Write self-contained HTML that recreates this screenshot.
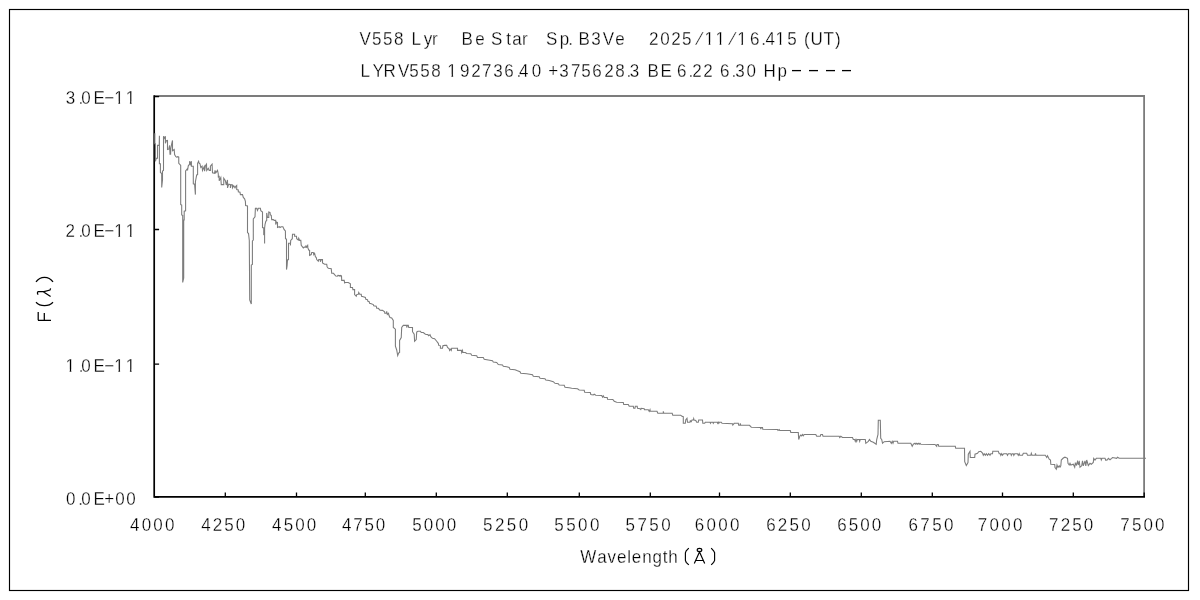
<!DOCTYPE html>
<html><head><meta charset="utf-8"><title>V558 Lyr spectrum</title>
<style>
html,body{margin:0;padding:0;background:#fff;}
body{width:1200px;height:600px;overflow:hidden;font-family:"Liberation Sans",sans-serif;}
svg{display:block;filter:grayscale(1);}
.t{font-family:"Liberation Sans",sans-serif;white-space:pre;fill:#000;stroke:#fff;stroke-width:0.3px;paint-order:fill stroke;}
.d{stroke:#000;stroke-width:1.3;}
</style></head><body>
<svg width="1200" height="600" viewBox="0 0 1200 600">
<rect x="0" y="0" width="1200" height="600" fill="#fff"/>
<rect x="9.5" y="9.5" width="1179" height="581" fill="none" stroke="#000" stroke-width="1.15"/>
<!-- plot frame: top & right gray -->
<path d="M154.3 96 H1144.1 V497" fill="none" stroke="#7c7c7c" stroke-width="1.8"/>
<!-- axes -->
<path d="M154.2 95.2 V496.95 H1145" fill="none" stroke="#000" stroke-width="1.7"/>
<path d="M225.30 497.0 V492.4 M296.50 497.0 V492.4 M365.30 497.0 V492.4 M436.30 497.0 V492.4 M507.30 497.0 V492.4 M579.30 497.0 V492.4 M650.30 497.0 V492.4 M719.50 497.0 V492.4 M790.30 497.0 V492.4 M861.30 497.0 V492.4 M932.30 497.0 V492.4 M1002.50 497.0 V492.4 M1073.30 497.0 V492.4 M1144.20 497.0 V492.4 M154.3 96.60 H159.1 M154.3 229.50 H159.1 M154.3 364.20 H159.1 M154.3 497.00 H159.1" fill="none" stroke="#000" stroke-width="1.3"/>
<!-- spectrum -->
<path d="M154.80 133.30 L154.80 143.75 L155.40 143.75 L155.40 161.25 L156.25 158.30 L157.50 158.30 L157.50 145.40 L159.20 145.40 L159.40 135.80 L159.40 163.75 L160.40 163.75 L160.40 172.50 L161.70 173.50 L161.70 187.50 L162.50 180.00 L162.50 171.00 L163.50 170.40 L163.50 136.25 L164.60 138.30 L165.40 136.25 L165.40 143.30 L166.25 140.80 L167.50 140.40 L167.50 149.60 L168.75 149.20 L169.60 145.40 L170.00 154.20 L170.60 154.20 L170.80 148.30 L171.70 143.75 L172.50 140.40 L172.50 150.80 L174.20 149.60 L174.60 154.60 L175.80 156.70 L176.70 157.10 L177.90 156.70 L178.75 157.10 L178.75 163.30 L179.60 164.20 L180.70 165.40 L180.70 204.60 L181.70 205.00 L181.70 215.00 L182.70 215.40 L182.70 282.50 L183.70 278.00 L183.70 220.00 L184.20 220.00 L184.20 211.25 L185.60 210.80 L185.60 171.00 L187.10 169.20 L187.50 170.40 L188.30 165.80 L189.60 164.20 L189.60 161.25 L190.40 164.20 L191.40 161.25 L191.40 166.25 L193.30 166.25 L193.30 183.75 L194.60 184.20 L195.40 194.60 L195.40 181.70 L196.70 175.00 L197.60 174.60 L197.60 163.30 L198.60 161.25 L199.20 163.30 L200.00 163.75 L200.80 167.50 L202.10 166.25 L202.50 170.40 L204.20 166.70 L204.60 171.25 L205.40 165.80 L206.50 164.20 L206.70 170.40 L208.30 168.30 L209.20 170.40 L210.40 170.40 L210.40 166.25 L212.10 164.20 L212.50 172.90 L214.60 173.30 L215.00 170.40 L215.80 172.90 L217.50 170.40 L218.30 174.00 L218.30 177.50 L219.20 175.80 L219.20 180.80 L220.80 177.50 L221.25 184.60 L223.75 184.60 L223.75 178.30 L225.40 180.80 L226.25 185.00 L227.50 180.00 L227.50 187.90 L228.75 184.20 L230.40 184.60 L230.40 187.90 L231.25 184.60 L232.50 185.00 L232.50 187.90 L233.75 185.80 L235.00 187.90 L235.80 186.25 L236.70 185.40 L236.70 189.60 L238.30 190.00 L238.30 191.70 L240.00 192.10 L240.40 194.60 L242.50 194.60 L243.30 197.50 L244.60 198.75 L245.40 201.25 L245.60 205.60 L247.50 206.00 L247.50 232.70 L248.50 233.30 L249.30 240.50 L249.70 300.00 L251.30 304.00 L251.30 265.00 L252.40 264.50 L252.40 241.00 L253.30 240.00 L253.30 219.00 L255.00 216.70 L255.40 208.30 L256.70 208.30 L257.50 210.40 L258.30 208.30 L260.40 208.30 L260.80 210.80 L262.50 212.10 L262.50 227.50 L263.75 227.90 L263.75 234.60 L264.60 235.00 L264.60 243.50 L264.60 228.30 L265.00 224.60 L265.80 221.25 L266.70 220.40 L266.70 212.90 L267.50 217.50 L268.75 217.50 L268.75 212.10 L270.00 212.50 L270.40 215.00 L271.25 215.40 L271.70 219.60 L273.30 219.60 L274.20 220.40 L275.70 220.40 L275.70 224.60 L276.70 222.10 L277.50 222.50 L277.50 227.50 L279.20 226.70 L280.00 227.50 L281.25 226.70 L282.90 226.70 L284.20 229.60 L285.40 231.00 L285.50 238.75 L286.50 239.20 L286.50 269.60 L287.10 265.80 L287.50 260.00 L288.50 259.60 L288.50 243.30 L290.40 243.30 L290.40 245.40 L290.70 240.40 L292.30 238.75 L292.50 234.20 L294.60 234.20 L294.60 236.25 L296.50 236.25 L296.70 238.75 L298.30 240.00 L298.75 238.30 L299.60 240.40 L300.80 240.40 L301.25 245.40 L303.30 247.90 L304.20 247.10 L305.80 247.10 L305.80 245.40 L306.70 247.10 L307.70 245.40 L307.90 247.90 L308.75 250.00 L309.60 250.40 L309.60 255.40 L311.25 254.60 L311.70 252.50 L313.30 252.50 L313.75 254.60 L314.60 253.30 L315.40 256.70 L316.25 257.50 L316.70 259.60 L318.30 261.25 L318.75 259.60 L320.40 259.60 L320.40 261.70 L321.25 259.60 L322.50 259.60 L322.50 262.90 L324.60 264.20 L326.70 264.20 L327.10 266.70 L328.30 268.30 L331.25 268.75 L331.70 273.30 L333.50 273.30 L335.80 276.00 L337.30 276.25 L337.90 275.40 L339.40 275.60 L340.00 276.25 L340.40 275.40 L341.50 275.80 L341.70 280.40 L344.20 280.40 L344.60 282.90 L345.40 282.50 L348.30 282.50 L350.40 283.75 L350.40 287.50 L352.50 287.50 L352.90 289.60 L354.60 289.60 L354.60 294.60 L356.25 296.25 L356.70 294.60 L358.30 294.20 L358.75 292.50 L359.60 294.20 L361.25 294.20 L361.50 296.25 L363.30 296.70 L365.40 297.50 L365.80 299.20 L367.50 299.60 L367.90 301.25 L369.20 301.70 L369.60 303.30 L371.25 303.75 L373.30 304.60 L373.75 305.80 L376.25 306.25 L376.70 308.30 L378.30 308.30 L380.00 310.20 L382.50 310.40 L384.60 311.70 L384.80 313.30 L386.25 313.30 L386.70 311.25 L387.30 314.40 L388.50 313.30 L389.00 315.50 L390.00 317.50 L391.70 317.90 L393.30 320.40 L393.30 327.50 L395.40 329.20 L395.40 346.25 L396.70 350.00 L397.70 355.50 L398.75 352.90 L399.60 352.50 L399.60 340.40 L401.25 337.50 L401.70 327.50 L403.30 325.40 L406.70 325.40 L406.70 327.50 L407.50 325.40 L408.30 325.40 L408.75 327.50 L412.50 327.50 L412.50 331.70 L414.20 334.20 L414.60 341.25 L416.25 339.60 L416.70 332.10 L417.90 331.25 L420.40 331.25 L421.25 332.50 L423.30 332.50 L425.40 334.20 L427.90 334.60 L428.75 335.80 L430.00 334.60 L430.80 336.70 L432.50 338.30 L434.60 338.75 L436.70 341.25 L438.30 343.30 L438.75 345.40 L440.40 345.80 L440.40 348.30 L442.50 348.30 L442.90 345.80 L444.60 345.40 L446.70 345.40 L447.50 347.50 L449.20 348.75 L449.60 350.40 L450.40 349.20 L451.25 350.40 L451.70 348.30 L457.50 348.30 L457.50 350.40 L461.25 350.40 L461.70 352.50 L462.50 350.40 L462.90 352.50 L465.40 352.50 L466.70 353.50 L470.80 353.70 L471.70 355.30 L476.70 355.80 L477.50 357.50 L483.30 357.50 L484.20 359.20 L488.30 360.00 L492.50 360.80 L493.30 362.00 L496.70 362.50 L498.30 364.50 L502.50 365.00 L503.30 366.30 L506.70 366.70 L509.20 367.50 L510.00 369.20 L515.00 369.70 L517.50 370.80 L520.00 371.70 L520.80 373.30 L526.70 373.80 L532.50 374.70 L533.30 376.30 L539.20 376.70 L540.00 378.30 L545.00 378.70 L545.80 380.00 L549.20 380.50 L553.30 381.70 L555.00 383.30 L558.30 383.70 L559.20 385.00 L564.20 385.30 L565.00 387.20 L569.20 387.80 L571.70 388.30 L577.50 388.80 L579.20 390.00 L584.20 390.30 L584.70 392.20 L590.30 392.50 L590.80 394.50 L593.30 395.00 L594.20 394.20 L595.80 395.30 L601.70 395.50 L602.50 397.20 L603.30 395.80 L604.20 397.50 L607.20 397.50 L607.50 399.20 L612.80 399.50 L614.20 401.20 L616.70 402.20 L623.30 402.50 L623.70 404.50 L628.30 404.50 L629.20 406.30 L633.30 406.30 L633.70 408.30 L635.00 408.30 L635.30 406.30 L637.20 406.30 L637.50 408.30 L640.00 408.70 L640.80 409.50 L641.20 408.30 L644.20 408.70 L644.50 409.70 L648.30 409.70 L649.20 411.30 L650.00 409.70 L650.30 411.30 L657.00 411.30 L657.80 413.30 L663.30 413.30 L663.30 411.30 L663.80 413.30 L672.20 413.30 L672.80 415.30 L680.80 415.30 L682.00 416.30 L683.30 416.70 L683.30 423.30 L685.30 423.30 L685.80 419.70 L687.00 418.30 L687.50 422.20 L690.00 422.20 L690.30 420.80 L691.30 421.70 L692.00 420.00 L693.30 420.00 L693.70 418.70 L694.00 420.00 L695.80 420.50 L696.70 422.20 L698.30 422.20 L698.70 420.00 L702.50 420.00 L702.80 423.30 L704.70 423.30 L705.30 422.20 L710.00 422.20 L710.50 423.30 L711.00 422.20 L712.80 422.20 L713.30 423.30 L713.80 422.20 L717.20 422.20 L717.70 423.30 L718.20 422.20 L718.80 423.30 L719.30 422.20 L721.30 422.20 L722.00 423.30 L732.50 423.70 L732.80 425.00 L734.20 423.30 L738.30 423.30 L738.70 425.30 L740.00 425.30 L740.30 423.30 L740.70 425.30 L749.50 425.30 L751.30 427.20 L760.50 427.50 L760.80 429.20 L761.30 427.50 L762.50 427.50 L762.80 429.20 L776.70 429.50 L777.50 429.50 L778.00 430.50 L779.20 429.50 L779.70 430.50 L790.30 430.50 L790.80 432.50 L798.30 432.50 L798.70 439.50 L800.00 435.80 L800.80 435.00 L801.70 435.80 L802.50 434.50 L803.30 435.80 L804.20 434.50 L815.80 434.50 L816.70 436.30 L820.30 436.30 L820.80 434.50 L822.50 434.50 L823.00 436.30 L839.20 436.30 L839.70 437.50 L840.80 436.30 L842.50 437.50 L852.50 437.50 L853.30 439.50 L854.70 439.50 L855.30 441.30 L856.00 439.50 L856.70 441.30 L857.30 439.50 L859.20 439.50 L859.70 441.30 L860.20 439.50 L865.30 439.50 L865.80 443.30 L868.30 441.30 L869.50 439.50 L870.80 441.30 L873.30 442.20 L876.20 444.20 L876.70 439.50 L878.00 434.50 L878.30 420.30 L880.30 420.30 L880.70 438.30 L881.70 439.50 L882.50 443.30 L884.20 441.70 L890.00 441.30 L891.30 443.30 L892.20 441.30 L893.00 443.30 L893.70 441.30 L897.50 441.30 L898.00 443.30 L910.80 443.30 L912.20 446.30 L913.30 444.20 L915.00 443.30 L915.80 444.20 L916.70 443.30 L917.50 444.20 L918.30 443.30 L919.20 444.20 L920.00 443.30 L920.80 444.20 L935.00 444.50 L936.70 446.30 L937.00 444.50 L938.30 444.50 L938.70 446.30 L955.30 446.30 L955.70 448.30 L964.50 448.30 L964.70 461.70 L966.30 465.50 L968.00 462.50 L968.30 454.20 L970.00 451.30 L970.30 457.50 L974.70 457.50 L975.00 454.20 L977.50 453.30 L978.70 451.70 L980.80 451.30 L982.50 453.00 L983.30 455.30 L984.20 453.70 L985.30 455.30 L986.30 453.70 L987.50 455.30 L988.70 453.70 L990.00 455.30 L990.80 453.70 L992.50 453.70 L992.80 451.30 L998.30 451.30 L999.20 453.70 L1000.30 453.70 L1000.80 455.30 L1001.70 453.70 L1002.50 455.30 L1003.70 453.70 L1006.70 453.70 L1007.50 455.30 L1008.30 453.70 L1010.80 453.70 L1011.30 455.30 L1012.20 453.70 L1013.30 453.70 L1013.80 455.30 L1014.70 453.70 L1017.50 453.70 L1018.30 455.30 L1019.20 453.70 L1019.70 455.30 L1022.50 455.30 L1023.30 453.30 L1026.70 453.30 L1027.50 455.30 L1030.80 455.30 L1031.30 453.30 L1032.00 455.30 L1035.00 455.30 L1035.50 453.30 L1036.00 455.30 L1045.30 455.30 L1046.70 457.50 L1047.50 455.80 L1049.20 459.20 L1050.50 460.00 L1050.80 464.20 L1054.70 464.50 L1055.00 467.50 L1056.30 469.20 L1057.00 465.00 L1058.00 467.50 L1059.20 465.80 L1060.00 467.20 L1060.80 465.80 L1061.30 460.00 L1063.30 458.00 L1065.00 457.20 L1067.50 458.30 L1068.00 463.30 L1069.20 465.00 L1070.00 463.30 L1070.80 465.00 L1073.30 464.20 L1074.70 467.20 L1075.30 463.30 L1076.30 465.00 L1077.50 461.70 L1078.30 465.00 L1079.20 460.80 L1080.00 467.20 L1081.70 465.80 L1082.50 460.80 L1083.30 465.80 L1085.00 460.80 L1085.80 465.80 L1086.70 460.00 L1088.30 465.50 L1090.00 463.30 L1091.30 464.20 L1093.30 462.50 L1093.70 458.30 L1095.00 460.00 L1096.30 458.30 L1100.80 458.30 L1101.30 460.00 L1102.00 458.30 L1105.00 458.30 L1105.80 460.30 L1107.50 459.70 L1108.30 458.30 L1110.00 459.70 L1111.70 458.30 L1112.50 457.50 L1116.70 458.30 L1117.50 457.20 L1119.20 458.30 L1146.00 458.30" fill="none" stroke="#7c7c7c" stroke-width="1.08" stroke-linejoin="miter"/>
<text class="t" transform="scale(0.9,1)" x="399.36 413.47 425.69 437.73 448.25 457.12 470.84 480.08 486.37 491.62 496.87 512.67 528.09 538.60 545.59 562.49 569.20 580.08 586.37 591.62 606.70 621.89 631.39 636.64 642.89 657.06 669.69 683.64 694.15 699.40 704.65 721.05 733.48 745.72 757.91 776.06 782.75 794.97 812.73 819.08 833.26 845.83 850.68 861.64 874.80 885.31 893.27 900.54 914.91 927.67" y="44.80" font-size="18.90" xml:space="preserve">V558 Lyr   Be Star  Sp. B3Ve   2025∕11∕16.415 (UT)</text>
<text class="t" transform="scale(0.9,1)" x="400.45 413.81 426.23 442.14 454.80 467.02 479.18 489.69 496.97 511.11 523.49 535.70 548.17 560.15 573.83 576.79 590.93 601.44 609.08 621.50 634.59 645.91 657.93 671.27 683.62 696.05 699.84 710.35 719.56 734.01 746.61 752.15 764.94 769.05 781.27 791.78 799.93 812.72 817.06 829.48 840.00 848.45 863.78" y="77.00" font-size="18.90" xml:space="preserve">LYRV558 192736.40 +375628.3 BE 6.22 6.30 Hp</text>
<line class="d" x1="792.0" y1="70.6" x2="801.0" y2="70.6"/>
<line class="d" x1="809.0" y1="70.6" x2="818.0" y2="70.6"/>
<line class="d" x1="826.0" y1="70.6" x2="835.0" y2="70.6"/>
<line class="d" x1="842.0" y1="70.6" x2="851.0" y2="70.6"/>
<text class="t" transform="scale(0.9,1)" x="73.17 87.16 90.37 104.01 115.73 126.92 139.69" y="104.00" font-size="18.90" xml:space="preserve">3.0E−11</text>
<text class="t" transform="scale(0.9,1)" x="72.83 87.16 90.37 104.01 115.73 126.92 139.69" y="237.40" font-size="18.90" xml:space="preserve">2.0E−11</text>
<text class="t" transform="scale(0.9,1)" x="72.75 87.50 90.37 104.01 115.73 126.92 139.69" y="372.00" font-size="18.90" xml:space="preserve">1.0E−11</text>
<text class="t" transform="scale(0.9,1)" x="73.48 86.94 90.37 104.01 115.74 128.15 140.37" y="505.00" font-size="18.90" xml:space="preserve">0.0E+00</text>
<text class="t" transform="scale(0.9,1)" x="144.57 157.47 170.38 183.28" y="531.00" font-size="18.90">4000</text>
<text class="t" transform="scale(0.9,1)" x="223.73 236.45 249.17 261.89" y="531.00" font-size="18.90">4250</text>
<text class="t" transform="scale(0.9,1)" x="302.34 315.16 327.97 340.78" y="531.00" font-size="18.90">4500</text>
<text class="t" transform="scale(0.9,1)" x="380.12 392.56 405.01 417.45" y="531.00" font-size="18.90">4750</text>
<text class="t" transform="scale(0.9,1)" x="458.13 470.87 483.60 496.34" y="531.00" font-size="18.90">5000</text>
<text class="t" transform="scale(0.9,1)" x="536.74 549.94 563.14 576.34" y="531.00" font-size="18.90">5250</text>
<text class="t" transform="scale(0.9,1)" x="615.91 629.11 642.31 655.50" y="531.00" font-size="18.90">5500</text>
<text class="t" transform="scale(0.9,1)" x="695.08 708.27 721.47 734.67" y="531.00" font-size="18.90">5750</text>
<text class="t" transform="scale(0.9,1)" x="771.82 784.90 797.98 811.06" y="531.00" font-size="18.90">6000</text>
<text class="t" transform="scale(0.9,1)" x="851.26 864.25 877.24 890.23" y="531.00" font-size="18.90">6250</text>
<text class="t" transform="scale(0.9,1)" x="930.15 942.95 955.76 968.56" y="531.00" font-size="18.90">6500</text>
<text class="t" transform="scale(0.9,1)" x="1009.48 1022.62 1035.76 1048.89" y="531.00" font-size="18.90">6750</text>
<text class="t" transform="scale(0.9,1)" x="1086.53 1099.52 1112.51 1125.50" y="531.00" font-size="18.90">7000</text>
<text class="t" transform="scale(0.9,1)" x="1165.70 1178.50 1191.31 1204.12" y="531.00" font-size="18.90">7250</text>
<text class="t" transform="scale(0.9,1)" x="1244.86 1257.67 1270.48 1283.28" y="531.00" font-size="18.90">7500</text>
<text class="t" transform="scale(0.9,1)" x="644.81 663.59 675.05 685.44 696.90 702.04 713.50 724.95 736.41 742.61" y="562.70" font-size="18.90">Wavelength</text>
<path fill="#fff" d="M704.95 42.40 h3.7 v3 h-3.7z M710.35 42.40 h3.7 v3 h-3.7z"/>
<path fill="#fff" d="M715.95 42.40 h3.7 v3 h-3.7z M721.35 42.40 h3.7 v3 h-3.7z"/>
<path fill="#fff" d="M737.65 42.40 h3.7 v3 h-3.7z M743.05 42.40 h3.7 v3 h-3.7z"/>
<path fill="#fff" d="M775.95 42.40 h3.7 v3 h-3.7z M781.35 42.40 h3.7 v3 h-3.7z"/>
<path fill="#fff" d="M447.75 74.60 h3.7 v3 h-3.7z M453.15 74.60 h3.7 v3 h-3.7z"/>
<path fill="#fff" d="M114.70 101.60 h3.7 v3 h-3.7z M120.10 101.60 h3.7 v3 h-3.7z"/>
<path fill="#fff" d="M126.20 101.60 h3.7 v3 h-3.7z M131.60 101.60 h3.7 v3 h-3.7z"/>
<path fill="#fff" d="M114.70 235.00 h3.7 v3 h-3.7z M120.10 235.00 h3.7 v3 h-3.7z"/>
<path fill="#fff" d="M126.20 235.00 h3.7 v3 h-3.7z M131.60 235.00 h3.7 v3 h-3.7z"/>
<path fill="#fff" d="M65.95 369.60 h3.7 v3 h-3.7z M71.35 369.60 h3.7 v3 h-3.7z"/>
<path fill="#fff" d="M114.70 369.60 h3.7 v3 h-3.7z M120.10 369.60 h3.7 v3 h-3.7z"/>
<path fill="#fff" d="M126.20 369.60 h3.7 v3 h-3.7z M131.60 369.60 h3.7 v3 h-3.7z"/>
<!-- x title: ( A-ring ) drawn as strokes -->
<g fill="none" stroke="#000" stroke-width="1.15" aria-label="(&#197;)">
<path d="M688.8 548.2 L686.2 550.9 L685.4 552.8 V560.4 L686.2 562.3 L688.8 564.8"/>
<path d="M711.2 548.2 L713.6 550.8 L714.6 552.7 V560.4 L713.6 562.3 L711.2 564.8"/>
<ellipse cx="699.5" cy="550" rx="2.3" ry="1.6"/>
<path d="M694.3 563.6 L699.5 552 L704.7 563.6 M695.6 560.5 H703.4"/>
</g>
<!-- y title F(lambda) rotated -->
<g fill="none" stroke="#000" stroke-width="1.25" aria-label="F(&#955;)">
<path d="M38 320.3 H51 M38.2 320.3 V312 M44.3 320.3 V313"/>
<path d="M36 302.2 C39 305.4 41.5 305.6 44.5 305.6 S50 305.4 53 302.2"/>
<path d="M38.2 294.6 Q36.6 293 38.2 291.5 L44 291.5 L50 290 L50.6 288.4 M43.6 292 L50.6 296.6"/>
<path d="M36 281.8 C39 277.6 41.5 277.3 44.5 277.3 S50 277.6 53 281.8"/>
</g>
</svg>
</body></html>
